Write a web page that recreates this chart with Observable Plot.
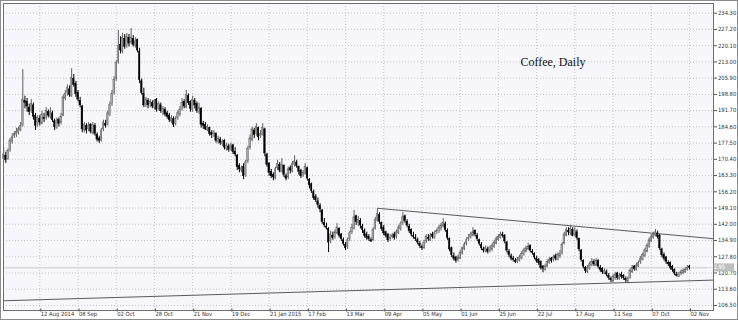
<!DOCTYPE html>
<html>
<head>
<meta charset="utf-8">
<script src="https://cdn.jsdelivr.net/npm/d3@7"></script>
<script src="https://cdn.jsdelivr.net/npm/@observablehq/plot@0.6"></script>
<style>
  html, body { margin: 0; padding: 0; background: #fff; }
  #chart svg { display: block; outline: 1px solid #8c8c8c; outline-offset: -1px; }
</style>
</head>
<body>
<div id="chart"></div>
<script>
// Coffee, Daily — OHLC per trading-day index (0 = first bar, late Jul 2014; 323 = 02 Nov 2015)
const open = [
170.5,172.0,170.5,174.5,178.0,180.5,181.0,182.0,183.0,185.5,
196.0,195.5,193.0,191.5,194.0,189.5,185.5,188.0,186.0,188.5,
188.5,191.0,189.0,190.5,187.0,184.0,187.5,186.5,189.5,197.0,
199.5,201.0,198.0,205.5,203.5,199.5,196.0,193.5,183.0,185.0,
183.5,185.5,182.0,185.0,181.0,179.5,178.5,183.5,186.0,185.5,
190.0,194.5,199.5,205.5,213.0,220.5,217.5,223.0,220.0,223.5,
221.5,223.0,220.0,222.5,217.5,204.5,199.0,194.5,196.0,194.5,
195.0,193.0,196.5,192.5,194.0,191.0,192.0,190.5,189.5,187.0,
188.0,186.0,188.5,190.0,192.5,195.5,193.0,198.0,195.5,192.0,
196.0,194.5,191.0,192.5,186.0,185.5,183.0,184.0,182.0,181.5,
181.5,178.0,179.0,177.0,178.5,175.0,176.0,175.0,176.5,173.5,
172.0,167.5,165.5,167.0,163.5,169.5,175.5,179.0,183.0,181.5,
184.0,180.5,181.0,183.5,172.5,168.5,165.0,163.5,162.0,166.5,
168.0,165.0,167.5,163.0,162.5,166.5,165.0,168.0,169.0,167.0,
165.5,163.5,164.0,166.5,161.5,159.5,156.0,154.0,152.0,150.0,
148.0,142.5,141.0,140.0,134.5,137.0,136.5,138.0,140.0,137.5,
135.0,133.0,132.0,135.5,138.5,140.0,145.5,142.5,143.5,141.0,
139.0,137.5,136.5,135.0,135.0,140.0,143.5,146.0,142.5,140.5,
138.5,137.5,135.5,136.5,137.5,136.5,138.0,140.0,142.5,145.5,
143.0,141.0,139.5,137.0,136.0,135.0,133.5,132.0,131.5,134.5,
136.0,135.0,137.5,136.0,138.5,139.0,140.0,141.0,142.0,139.0,
135.5,131.5,128.0,127.5,126.5,127.0,129.0,131.0,133.5,135.5,
136.5,137.0,139.0,137.0,135.0,133.0,131.0,130.5,131.0,130.5,
131.0,132.0,133.5,135.0,136.0,137.5,137.0,134.0,130.0,128.0,
127.0,126.0,125.5,126.0,127.0,129.0,130.0,131.0,132.5,130.0,
129.0,127.0,126.5,125.5,123.5,122.0,123.5,125.0,127.0,126.5,
128.0,126.5,128.0,129.5,133.5,137.0,139.0,138.0,139.5,137.5,
138.5,135.5,130.5,126.0,123.0,121.0,122.5,124.0,125.5,124.0,
126.0,123.0,122.5,120.5,121.0,119.5,118.0,117.0,118.5,120.5,
118.0,120.0,119.5,118.0,117.0,118.5,121.0,123.5,122.0,123.5,
125.5,126.5,128.0,130.0,132.0,134.5,136.0,137.0,138.0,137.0,
131.0,128.5,127.5,125.0,125.0,123.5,122.0,120.0,119.0,120.5,
120.5,121.0,122.0,123.5
];
const high = [
175.5,173.5,175.0,179.5,181.5,182.5,184.0,184.5,186.5,209.6,
198.0,197.0,194.5,196.5,195.0,190.5,189.5,189.5,191.5,190.5,
193.0,192.0,193.0,191.5,188.0,188.5,188.5,190.5,198.5,200.5,
203.0,202.5,210.0,207.5,204.5,200.5,197.5,194.0,186.5,186.0,
186.5,186.0,186.5,186.0,182.0,180.5,184.0,187.5,187.5,191.5,
195.5,200.5,206.5,213.5,226.7,224.0,225.5,225.0,225.5,225.0,
227.6,224.5,223.5,223.0,219.0,205.5,201.5,197.5,197.0,196.5,
196.0,196.5,197.0,195.5,195.0,193.5,193.0,191.5,190.5,189.5,
189.0,189.0,191.5,193.5,197.0,196.5,200.5,199.0,196.0,198.0,
197.0,195.5,195.0,193.0,187.0,186.5,185.5,184.5,183.0,183.0,
182.0,180.5,180.0,179.0,179.0,177.5,177.0,177.5,177.0,175.5,
172.5,168.5,167.5,168.5,170.0,176.0,181.0,184.5,184.0,186.0,
184.5,183.0,186.0,184.0,173.0,169.0,166.0,164.5,167.0,170.0,
169.0,170.7,168.0,164.0,167.0,167.5,169.5,172.0,170.0,167.5,
166.0,165.5,168.6,167.0,162.0,160.0,157.0,155.0,153.5,151.0,
148.5,144.5,142.5,140.5,139.0,138.5,139.5,142.3,140.5,138.0,
136.0,134.0,136.0,139.0,142.0,148.0,146.0,145.5,144.5,142.0,
140.0,138.5,137.5,136.0,140.5,145.0,148.8,147.0,143.0,141.5,
139.0,138.0,137.5,138.0,138.5,139.5,141.5,143.0,147.1,146.0,
144.0,142.0,140.0,138.5,137.5,136.0,134.5,133.0,135.0,137.5,
137.5,138.0,138.5,139.0,140.0,141.5,142.5,144.5,143.0,140.0,
136.0,132.0,129.5,128.0,128.5,130.5,132.0,134.0,136.0,137.5,
138.5,140.5,139.5,138.0,135.5,134.0,132.0,132.5,132.0,132.5,
133.5,135.0,136.5,137.5,138.5,138.5,137.5,134.5,131.0,129.0,
128.0,127.0,127.5,128.5,130.0,131.5,132.5,133.7,133.0,131.0,
129.5,128.0,127.0,126.0,124.0,124.5,126.5,127.5,127.5,128.5,
129.0,129.5,130.5,134.0,138.5,140.5,140.5,141.5,140.5,140.5,
139.5,136.0,131.0,126.5,123.5,124.0,125.5,127.0,126.5,127.0,
126.5,124.0,123.0,122.5,122.0,120.5,119.0,120.0,121.0,121.0,
120.5,121.0,120.0,119.0,119.0,122.5,124.0,124.0,125.0,126.0,
128.0,129.5,131.5,133.5,136.0,137.5,138.5,139.7,139.0,137.5,
131.5,129.5,128.0,126.0,125.5,124.0,122.5,121.0,121.0,122.0,
122.5,123.0,124.0,124.0
];
const low = [
169.5,168.6,170.0,173.5,177.0,179.5,180.0,181.0,182.5,184.5,
192.5,191.0,189.5,190.5,187.5,183.0,184.5,185.0,185.5,186.5,
187.5,188.5,188.0,186.5,183.0,183.5,184.5,185.5,189.0,196.0,
198.0,197.5,197.5,202.0,197.5,195.5,193.0,182.0,182.0,181.5,
182.5,181.5,181.0,180.5,178.0,177.3,178.0,182.5,184.0,185.0,
189.0,193.5,198.5,204.5,212.0,216.5,216.5,218.5,219.0,219.5,
220.5,219.5,219.0,217.0,203.5,198.5,193.0,193.0,192.5,193.0,
192.5,192.0,191.0,191.5,190.5,189.5,189.0,188.0,186.5,186.0,
184.3,185.0,187.5,189.0,191.5,192.5,192.5,194.0,191.0,191.0,
192.5,190.5,190.0,184.0,183.5,183.0,182.5,180.5,179.5,180.0,
177.5,177.0,176.5,176.0,174.5,174.0,173.5,174.0,172.5,171.5,
165.5,164.5,164.5,161.5,162.5,168.5,174.5,178.0,179.5,180.5,
178.5,179.5,180.5,171.5,167.0,163.0,162.0,161.0,161.5,165.5,
164.5,164.5,162.5,161.0,161.5,164.0,164.5,167.0,166.5,163.5,
162.0,162.5,163.5,161.0,157.5,155.5,152.5,151.5,149.0,147.0,
142.0,140.5,139.5,129.6,133.5,135.0,135.5,137.5,136.0,134.5,
132.5,130.5,131.0,134.5,137.5,139.5,141.5,141.0,140.0,138.0,
136.0,135.0,134.5,134.0,134.5,139.5,143.0,142.0,139.0,137.0,
136.0,134.0,134.5,135.5,135.0,135.5,137.5,139.0,141.5,142.5,
140.5,138.0,136.5,135.5,134.5,133.0,131.5,130.5,131.0,133.5,
134.5,134.5,135.5,135.5,137.5,138.0,139.0,140.5,138.5,135.0,
130.0,127.5,126.0,125.0,125.5,126.5,128.5,130.5,132.5,134.5,
135.5,136.5,136.5,134.5,132.5,130.5,129.5,129.5,129.0,129.5,
130.0,131.5,133.0,134.5,135.5,136.0,133.5,129.5,127.5,126.0,
125.5,124.8,124.8,125.5,126.5,128.0,129.5,130.5,129.5,128.5,
126.5,125.0,124.0,122.0,120.8,121.5,123.0,124.5,125.0,125.5,
126.0,126.0,127.0,128.5,133.0,136.5,137.0,137.0,136.5,136.5,
135.0,130.0,125.5,122.5,120.5,120.5,122.0,123.5,123.5,123.5,
122.5,121.0,120.0,120.0,119.0,117.5,116.5,116.5,117.5,117.5,
117.5,118.0,117.5,116.5,116.0,118.0,120.5,121.5,121.5,123.0,
124.5,126.0,127.5,129.5,131.5,134.0,135.5,136.5,135.5,130.5,
127.5,126.0,124.5,123.5,122.0,121.0,119.5,119.0,118.7,119.5,
120.0,120.5,121.5,122.0
];
const close = [
172.5,170.0,174.0,178.5,180.0,181.5,182.5,183.5,185.0,196.5,
195.0,193.5,191.0,194.5,189.0,185.0,188.5,186.5,190.0,188.0,
191.5,189.5,191.0,187.5,184.5,187.0,186.0,189.0,197.5,199.0,
201.5,198.5,206.0,203.0,199.0,196.5,194.0,183.5,185.5,183.0,
185.0,182.5,185.5,181.5,179.0,178.5,183.0,186.5,185.0,190.5,
194.0,199.0,205.0,212.5,220.0,218.0,223.5,219.5,224.0,221.0,
223.5,220.5,222.0,218.0,205.0,199.5,194.0,196.5,194.0,195.5,
193.5,196.0,192.0,194.5,191.5,192.5,190.0,189.0,187.5,188.5,
185.5,188.0,190.5,192.0,195.0,193.5,198.5,195.0,192.5,196.5,
194.0,191.5,193.0,185.5,185.0,183.5,184.5,181.5,181.0,182.0,
178.5,179.5,177.5,178.0,175.5,176.5,174.5,176.0,173.5,172.5,
167.0,166.0,166.5,163.0,169.0,175.0,179.5,183.5,181.0,184.5,
180.0,181.5,184.0,173.0,168.0,164.5,163.0,162.5,166.0,168.5,
165.5,168.0,163.5,162.0,166.0,165.5,168.5,169.5,167.5,165.0,
163.0,164.5,167.0,162.0,159.0,156.5,153.5,152.5,150.5,148.5,
143.0,141.5,140.5,134.0,137.5,136.0,138.5,140.5,137.0,135.5,
133.5,131.5,135.0,138.0,140.5,145.0,143.0,144.0,141.5,139.5,
137.0,136.0,135.5,134.5,139.5,144.0,146.5,143.0,140.0,138.0,
137.0,135.0,136.0,137.0,136.0,138.5,140.5,142.0,145.0,143.5,
141.5,139.0,137.5,136.5,135.5,134.0,132.5,131.5,134.0,136.5,
135.5,137.0,136.5,138.0,139.0,140.5,141.5,142.5,139.5,136.0,
131.0,128.5,127.0,126.0,127.5,129.5,131.5,133.0,135.0,136.0,
137.5,138.5,137.5,135.5,133.5,131.5,130.5,131.5,130.0,131.5,
132.5,134.0,135.5,136.5,137.5,137.0,134.5,130.5,128.5,127.0,
126.5,125.5,126.5,127.5,129.0,130.5,131.5,132.0,130.5,129.5,
127.5,126.0,125.0,123.0,122.5,123.5,125.5,126.5,126.0,127.5,
127.0,128.5,129.0,133.0,137.5,139.5,138.5,140.0,137.0,139.0,
136.0,131.0,126.5,123.5,121.5,123.0,124.5,125.5,124.5,126.0,
123.5,122.0,121.0,121.5,120.0,118.5,117.5,119.0,120.0,118.5,
119.5,119.0,118.5,117.5,118.0,121.5,123.0,122.5,124.0,125.0,
127.0,128.5,130.5,132.5,135.0,136.5,137.5,138.5,136.5,131.5,
128.5,127.0,125.5,124.5,123.0,122.0,120.5,119.5,120.0,121.0,
121.5,122.0,123.0,122.95
];

// x tick labels (every 18 bars) and y tick values
const xTickIndex = [17,35,53,71,89,107,125,143,161,179,197,215,233,251,269,287,305,323];
const xTickLabels = ["12 Aug 2014","08 Sep","02 Oct","28 Oct","21 Nov","19 Dec","21 Jan 2015","17 Feb","13 Mar","09 Apr","05 May","01 Jun","25 Jun","22 Jul","17 Aug","11 Sep","07 Oct","02 Nov"];
const yTicks = [106.5,113.6,120.7,127.8,134.9,142.0,149.1,156.2,163.3,170.4,177.5,184.6,191.7,198.8,205.9,213.0,220.1,227.2,234.3];

// trend lines (bar index, price)
const upperTrend = [{x1: 176, y1: 149.0, x2: 334.3, y2: 135.7}];
const lowerTrend = [{x1: -0.1, y1: 108.55, x2: 334.3, y2: 117.6}];
const lastPrice = 122.95;
const title = "Coffee, Daily";

const bars = close.map((c, i) => ({i, open: open[i], high: high[i], low: low[i], close: c, up: c >= open[i]}));
const labelOf = new Map(xTickIndex.map((d, k) => [d, xTickLabels[k]]));

const xDomain = [-0.1, 334.3];
const yDomain = [104.3, 238.54];

const font = "'Liberation Sans Narrow', 'DejaVu Sans Condensed', 'Liberation Sans', sans-serif";
const fs = 5.8;

const plot = Plot.plot({
  width: 738,
  height: 320,
  marginLeft: 3,
  marginRight: 25,
  marginTop: 3,
  marginBottom: 10,
  style: {background: "#fff", fontFamily: font},
  x: {type: "linear", domain: xDomain, axis: null},
  y: {type: "linear", domain: yDomain, axis: null},
  marks: [
    Plot.frame({fill: "#f7f7fb", stroke: "none"}),
    Plot.gridX(xTickIndex, {stroke: "#c4c4c4", strokeOpacity: 1, strokeDasharray: "1,2"}),
    Plot.gridY(yTicks, {stroke: "#c4c4c4", strokeOpacity: 1, strokeDasharray: "1,2"}),
    Plot.ruleY([lastPrice], {stroke: "#c8c8c8", strokeWidth: 1}),
    Plot.link(upperTrend, {x1: "x1", y1: "y1", x2: "x2", y2: "y2", stroke: "#5a5a5a", strokeWidth: 1}),
    Plot.link(lowerTrend, {x1: "x1", y1: "y1", x2: "x2", y2: "y2", stroke: "#5a5a5a", strokeWidth: 1}),
    Plot.ruleX(bars, {x: "i", y1: "low", y2: "high", stroke: d => d.up ? "#5e5e5e" : "#000", strokeWidth: 1}),
    Plot.rect(bars, {x1: d => d.i - 0.32, x2: d => d.i + 0.32, y1: "open", y2: "close",
      fill: d => d.up ? "#b4b4b4" : "#000", stroke: d => d.up ? "#5e5e5e" : "#000", strokeWidth: 0.5}),
    Plot.frame({stroke: "#6e6e6e"}),
    Plot.axisY(yTicks, {anchor: "right", tickSize: 3, tickPadding: 1.5, tickFormat: d => d.toFixed(2),
      fontSize: fs, fill: "#333", stroke: "#555"}),
    Plot.axisX(xTickIndex, {anchor: "bottom", tickSize: 3, tickPadding: 0, tickFormat: d => labelOf.get(d),
      textAnchor: "start", dx: 1, dy: -1.5, fontSize: fs, fill: "#333", stroke: "#555"}),
    Plot.text([title], {frameAnchor: "top-right", dx: -128, dy: 54, textAnchor: "end", lineAnchor: "top",
      fontFamily: "'Liberation Serif', 'Times New Roman', serif", fontSize: 12, fill: "#111"})
  ]
});

document.getElementById("chart").appendChild(plot);

// price tag on the right axis
const svg = d3.select(plot);
const yy = plot.scale("y").apply(lastPrice);
const tag = svg.append("g");
tag.append("rect").attr("x", 714).attr("y", yy - 4).attr("width", 20).attr("height", 8).attr("fill", "#c0c0c0");
tag.append("text").attr("x", 716).attr("y", yy).attr("dy", "0.35em").attr("font-size", fs)
  .attr("font-family", font).attr("fill", "#fff").text(lastPrice.toFixed(2));
</script>
</body>
</html>
